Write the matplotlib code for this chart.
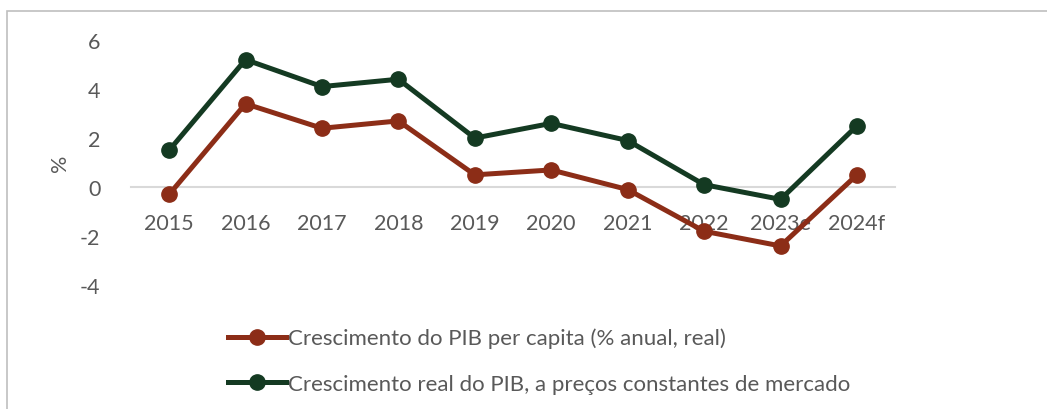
import matplotlib.pyplot as plt
from matplotlib.patches import Rectangle

# Chart data
years = ['2015', '2016', '2017', '2018', '2019', '2020', '2021', '2022', '2023e', '2024f']
pib_per_capita = [-0.3, 3.4, 2.4, 2.7, 0.5, 0.7, -0.1, -1.8, -2.4, 0.5]
pib_real = [1.5, 5.2, 4.1, 4.4, 2.0, 2.6, 1.9, 0.1, -0.5, 2.5]

label_red = 'Crescimento do PIB per capita (% anual, real)'
label_green = 'Crescimento real do PIB, a preços constantes de mercado'

red = '#8c2d17'
green = '#143a22'
grey_text = '#595959'

plt.rcParams['font.family'] = ['Lato', 'DejaVu Sans']
plt.rcParams['axes.unicode_minus'] = False

fig = plt.figure(figsize=(10.47, 4.10), dpi=100)
ax = fig.add_axes([0.125, 0.302, 0.73, 0.598])

x = range(len(years))
ax.plot(x, pib_per_capita, color=red, lw=3.6, marker='o', markersize=11, label=label_red)
ax.plot(x, pib_real, color=green, lw=3.6, marker='o', markersize=11, label=label_green)

ax.set_xlim(-0.5, len(years) - 0.5)
ax.set_ylim(-4, 6)
ax.set_yticks([-4, -2, 0, 2, 4, 6])
ax.set_xticks(list(x))
ax.set_xticklabels(years)

for s in ['top', 'right', 'left']:
    ax.spines[s].set_visible(False)
ax.spines['bottom'].set_position(('data', 0))
ax.spines['bottom'].set_color('#d9d9d9')
ax.spines['bottom'].set_linewidth(1.5)
ax.spines['bottom'].set_zorder(0)

ax.tick_params(axis='both', length=0, labelsize=15.5, colors=grey_text)
ax.tick_params(axis='x', pad=19)
ax.tick_params(axis='y', pad=22)
ax.set_ylabel('%', fontsize=15.5, color=grey_text)
ax.yaxis.set_label_coords(-0.08, 0.5)

leg = fig.legend(loc='upper left', bbox_to_anchor=(0.199, 0.247), frameon=False,
                 fontsize=16, handlelength=2.6, handletextpad=0.1, labelspacing=1.15)
for t in leg.get_texts():
    t.set_color(grey_text)

# chart border (only top and left edges visible in the crop)
fig.add_artist(Rectangle((0.0067, -0.1), 1.1, 1.071, transform=fig.transFigure,
                         fill=False, edgecolor='#bfbfbf', lw=1.2))

fig.savefig('out.png', dpi=100)
